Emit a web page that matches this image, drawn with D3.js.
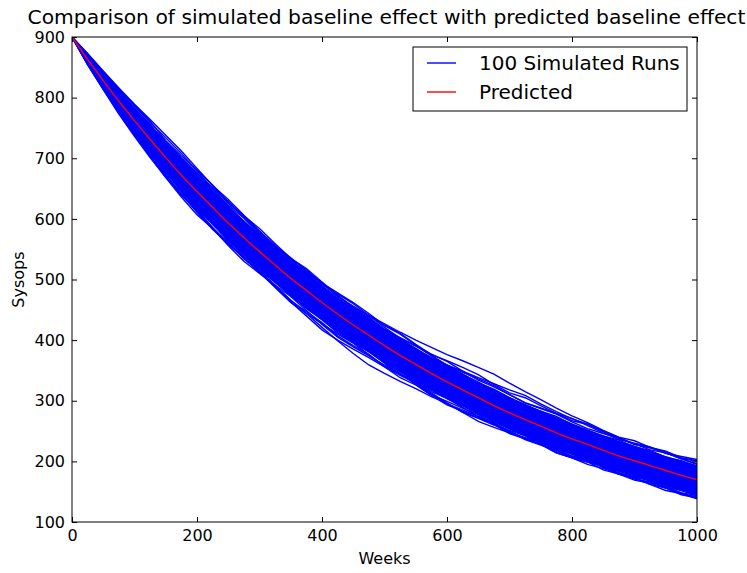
<!DOCTYPE html>
<html>
<head>
<meta charset="utf-8">
<script src="https://cdn.jsdelivr.net/npm/d3@7"></script>
<style>
  body { margin: 0; background: #fff; }
  text { font-family: "DejaVu Sans", sans-serif; fill: #000; }
</style>
</head>
<body>
<div id="chart"></div>
<script>
const weeks = [0, 25, 50, 75, 100, 125, 150, 175, 200, 225, 250, 275, 300, 325, 350, 375, 400,
               425, 450, 475, 500, 525, 550, 575, 600, 625, 650, 675, 700, 725, 750, 775, 800,
               825, 850, 875, 900, 925, 950, 975, 1000]

// red "Predicted" curve
const predicted = [900, 863, 828, 794, 762, 731, 701, 672, 645, 619, 593, 569, 546, 524, 502, 482, 462,
                   443, 425, 408, 391, 375, 360, 345, 331, 318, 305, 292, 280, 269, 258, 247, 237,
                   228, 218, 209, 201, 193, 185, 177, 170]

// dense core of the blue band (where the runs overlap solid)
const bandUpper = [900, 868, 840, 810, 782, 754, 726, 699, 673, 648, 622, 598, 575, 553, 531, 511, 491,
                   471, 453, 436, 419, 403, 388, 372, 358, 345, 332, 319, 306, 295, 284, 273, 263,
                   253, 243, 234, 226, 217, 209, 201, 194]
const bandLower = [900, 857, 815, 777, 741, 707, 675, 644, 616, 589, 563, 539, 516, 494, 472, 452, 432,
                   413, 395, 379, 362, 346, 331, 316, 302, 290, 277, 264, 252, 241, 230, 220, 210,
                   201, 191, 182, 175, 167, 159, 151, 144]

// visible runs at the edges of the band, as distance from the predicted curve
const runOffsets = [
  [0, 9, 14, 19, 24, 28, 33, 36, 34, 31, 33, 35, 33, 30, 32, 34, 31, 29, 31, 33, 30, 28, 30, 32, 34, 31, 29, 31, 30, 27, 29, 31, 28, 26, 28, 30, 27, 29, 31, 28, 30],
  [0, 7, 12, 17, 20, 23, 27, 29, 31, 28, 30, 32, 29, 31, 34, 32, 30, 33, 35, 33, 36, 38, 40, 43, 45, 48, 50, 52, 49, 46, 44, 41, 38, 36, 33, 31, 33, 30, 32, 29, 31],
  [0, 8, 15, 20, 26, 30, 28, 32, 35, 37, 34, 36, 38, 35, 33, 36, 34, 31, 29, 32, 34, 36, 33, 31, 35, 37, 38, 35, 33, 36, 34, 32, 30, 33, 31, 29, 27, 30, 28, 31, 33],
  [0, 6, 11, 16, 21, 25, 24, 27, 29, 33, 36, 34, 31, 29, 31, 28, 32, 35, 37, 36, 33, 35, 32, 30, 28, 31, 33, 36, 38, 40, 37, 35, 33, 34, 32, 30, 28, 26, 29, 27, 25],
  [0, 10, 16, 22, 27, 33, 37, 40, 38, 36, 39, 37, 34, 32, 29, 31, 33, 30, 28, 30, 27, 29, 31, 29, 27, 29, 31, 33, 30, 28, 30, 32, 34, 31, 29, 27, 29, 31, 29, 27, 26],
  [0, 5, 9, 13, 17, 20, 22, 25, 23, 26, 28, 25, 27, 24, 26, 29, 27, 24, 26, 28, 25, 27, 24, 26, 28, 26, 24, 27, 25, 23, 25, 27, 24, 22, 24, 26, 23, 25, 22, 24, 22],
  [0, -8, -13, -18, -23, -27, -29, -32, -30, -33, -35, -33, -31, -34, -36, -38, -41, -44, -47, -49, -46, -43, -40, -38, -35, -37, -34, -32, -30, -33, -31, -29, -31, -33, -30, -28, -30, -27, -29, -31, -28],
  [0, -9, -15, -21, -26, -30, -33, -36, -38, -35, -37, -39, -36, -34, -37, -35, -33, -36, -34, -32, -35, -37, -34, -36, -38, -35, -33, -31, -34, -32, -30, -33, -31, -29, -32, -30, -28, -31, -29, -32, -30],
  [0, -7, -12, -17, -22, -25, -28, -31, -34, -36, -33, -31, -34, -37, -40, -38, -35, -33, -30, -32, -34, -31, -29, -32, -35, -37, -39, -36, -33, -31, -29, -31, -28, -26, -28, -30, -32, -29, -27, -29, -31],
  [0, -8, -14, -19, -24, -28, -32, -30, -33, -36, -34, -32, -35, -33, -30, -33, -36, -38, -36, -34, -32, -30, -33, -35, -32, -30, -28, -31, -29, -27, -30, -33, -31, -29, -27, -30, -28, -31, -33, -30, -32],
  [0, -6, -11, -17, -21, -26, -30, -33, -31, -34, -32, -35, -33, -36, -39, -42, -45, -43, -40, -37, -35, -33, -31, -34, -36, -33, -31, -29, -32, -30, -28, -26, -29, -27, -25, -28, -26, -24, -27, -25, -27],
  [0, -6, -10, -14, -18, -22, -25, -27, -29, -27, -30, -28, -31, -29, -27, -30, -28, -31, -29, -27, -29, -31, -28, -30, -27, -29, -31, -28, -30, -32, -29, -27, -29, -26, -28, -30, -27, -25, -27, -29, -26]
]

const xTicks = [0, 200, 400, 600, 800, 1000]
const yTicks = [100, 200, 300, 400, 500, 600, 700, 800, 900]
const legendLabels = ["100 Simulated Runs", "Predicted"]

const WIDTH = 747
const HEIGHT = 573
const MARGINS = {left: 72, right: 50, top: 37, bottom: 51}
const BLUE = "#0000ff"
const RED = "#ff0000"

/*********************************************
// Drawing
*********************************************/
function createSVG(elementId) {
  return d3.select(`#${elementId}`)
    .append("svg")
    .attr("width", WIDTH)
    .attr("height", HEIGHT)
}

function drawSeries(plot, x, y) {
  const line = d3.line()
    .x((d) => x(d[0]))
    .y((d) => y(d[1]))

  const area = d3.area()
    .x((_, i) => x(weeks[i]))
    .y0((_, i) => y(bandLower[i]))
    .y1((d) => y(d))

  plot.append("path")
    .datum(bandUpper)
    .attr("d", area)
    .attr("fill", BLUE)

  plot.selectAll("path.run")
    .data(runOffsets).enter()
    .append("path")
    .classed("run", true)
    .attr("d", (offs) => line(offs.map((o, i) => [weeks[i], predicted[i] + o])))
    .attr("fill", "none")
    .attr("stroke", BLUE)
    .attr("stroke-width", 1.4)

  plot.append("path")
    .datum(predicted.map((v, i) => [weeks[i], v]))
    .attr("d", line.curve(d3.curveMonotoneX))
    .attr("fill", "none")
    .attr("stroke", RED)
    .attr("stroke-width", 1.4)
}

function drawAxes(svg, x, y, w, h) {
  const tick = 5
  const g = svg.append("g").attr("transform", `translate(${MARGINS.left},${MARGINS.top})`)

  const xAxis = g.append("g").attr("transform", `translate(0,${h})`)
    .call(d3.axisBottom(x).tickValues(xTicks).tickSize(-tick).tickPadding(tick + 3).tickFormat(d3.format("d")))
  const xTop = g.append("g")
    .call(d3.axisTop(x).tickValues(xTicks).tickSize(-tick).tickFormat(""))
  const yAxis = g.append("g")
    .call(d3.axisLeft(y).tickValues(yTicks).tickSize(-tick).tickPadding(tick + 2).tickFormat(d3.format("d")))
  const yRight = g.append("g").attr("transform", `translate(${w},0)`)
    .call(d3.axisRight(y).tickValues(yTicks).tickSize(-tick).tickFormat(""))

  for (const a of [xAxis, xTop, yAxis, yRight]) {
    a.select(".domain").remove()
    a.selectAll("line").attr("stroke", "#000")
    a.selectAll("text").attr("font-size", 16).attr("font-family", "DejaVu Sans")
  }

  g.append("rect")
    .attr("width", w)
    .attr("height", h)
    .attr("fill", "none")
    .attr("stroke", "#000")
    .attr("stroke-width", 1)
}

function drawLabels(svg, w, h) {
  svg.append("text")
    .text("Comparison of simulated baseline effect with predicted baseline effect")
    .attr("x", MARGINS.left + w / 2 + 2)
    .attr("y", 24)
    .attr("text-anchor", "middle")
    .attr("font-size", 20.3)

  svg.append("text")
    .text("Weeks")
    .attr("x", MARGINS.left + w / 2)
    .attr("y", 564)
    .attr("text-anchor", "middle")
    .attr("font-size", 16)

  svg.append("text")
    .text("Sysops")
    .attr("transform", `translate(24,${MARGINS.top + h / 2}) rotate(-90)`)
    .attr("text-anchor", "middle")
    .attr("font-size", 16)
}

function drawLegend(svg) {
  const lg = svg.append("g").attr("transform", "translate(413,47)")
  lg.append("rect")
    .attr("width", 274)
    .attr("height", 64)
    .attr("fill", "#fff")
    .attr("stroke", "#000")

  const rows = lg.selectAll("g.row")
    .data(legendLabels).enter()
    .append("g")
    .attr("transform", (_, i) => `translate(0,${16 + i * 29})`)

  rows.append("line")
    .attr("x1", 14).attr("x2", 43)
    .attr("stroke", (_, i) => i === 0 ? BLUE : RED)
    .attr("stroke-width", 1.4)

  rows.append("text")
    .text((d) => d)
    .attr("x", 66)
    .attr("y", 7)
    .attr("font-size", 20)
}

function draw() {
  const w = WIDTH - MARGINS.left - MARGINS.right
  const h = HEIGHT - MARGINS.top - MARGINS.bottom
  const x = d3.scaleLinear().domain([0, 1000]).range([0, w])
  const y = d3.scaleLinear().domain([100, 900]).range([h, 0])

  const svg = createSVG("chart")
  svg.append("clipPath").attr("id", "plot-clip")
    .append("rect").attr("width", w).attr("height", h)

  const plot = svg.append("g")
    .attr("transform", `translate(${MARGINS.left},${MARGINS.top})`)
    .attr("clip-path", "url(#plot-clip)")

  drawSeries(plot, x, y)
  drawAxes(svg, x, y, w, h)
  drawLabels(svg, w, h)
  drawLegend(svg)
}

draw()
</script>
</body>
</html>
